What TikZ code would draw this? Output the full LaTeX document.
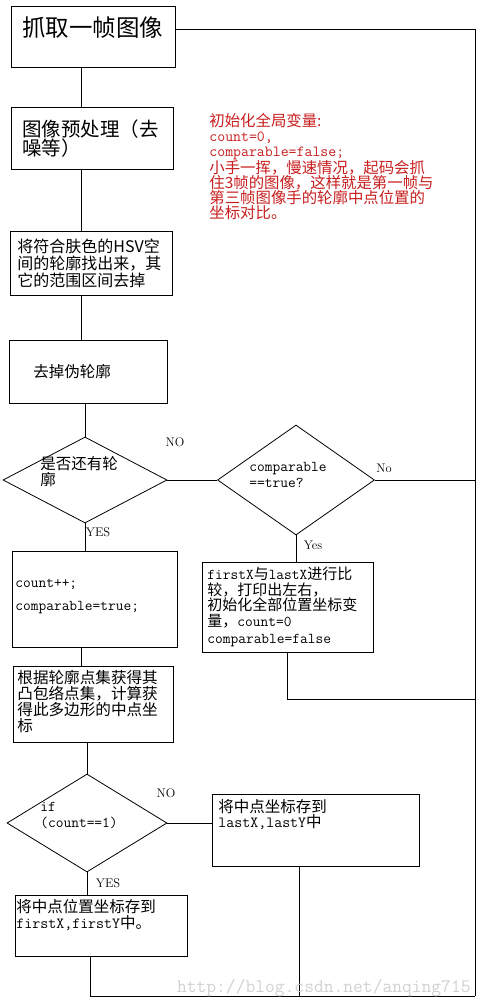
\documentclass[tikz,border=0pt]{standalone}
\usepackage{fontspec}
\newfontfamily\cjk{Noto Sans CJK SC}
\usetikzlibrary{shapes.geometric}
\definecolor{notered}{RGB}{200,30,30}
\newcommand{\mono}[1]{{\ttfamily #1}}

\begin{document}
\begin{tikzpicture}[x=1pt, y=-1pt, line width=0.8pt,
    box/.style={draw, rectangle, inner sep=0pt},
    decision/.style={draw, diamond, inner sep=0pt},
    zh/.style={font=\fontsize{15.5}{16}\cjk, align=left, inner sep=0pt, anchor=west},
    code/.style={font=\fontsize{15}{16}\ttfamily, align=left, inner sep=0pt, anchor=west},
    yn/.style={font=\fontsize{12.5}{13}\selectfont, inner sep=0pt}]
  \fill[white] (0,0) rectangle (481,1008);
  \useasboundingbox (0,0) rectangle (481,1008);

  % boxes and decisions
  \node[box, minimum width=163.5, minimum height=61] (grab) at (93.25,36.5) {};
  \node[box, minimum width=161.5, minimum height=62] (prep) at (92.25,138) {};
  \node[box, minimum width=162, minimum height=64] (hsv) at (91,263) {};
  \node[box, minimum width=158, minimum height=63] (fake) at (88,371.5) {};
  \node[decision, minimum width=164, minimum height=86] (d1) at (85,480) {};
  \node[decision, minimum width=157, minimum height=110] (d2) at (296,480) {};
  \node[box, minimum width=165, minimum height=96] (cnt) at (94.5,599) {};
  \node[box, minimum width=171, minimum height=90] (cmp) at (287.5,607) {};
  \node[box, minimum width=160, minimum height=76] (hull) at (93,704) {};
  \node[decision, minimum width=160, minimum height=98] (d3) at (87,823) {};
  \node[box, minimum width=207, minimum height=72] (last) at (315.5,830) {};
  \node[box, minimum width=172, minimum height=61] (first) at (101,925.5) {};

  % texts
  \node[zh, font=\fontsize{23.5}{26}\cjk] (grabtxt) at (22,28) {抓取一帧图像};
  \node[zh, font=\fontsize{19.5}{19}\cjk] (preptxt) at (22,139) {图像预处理（去\\噪等）};
  \node[zh, font=\fontsize{16}{17}\cjk] (hsvtxt) at (17,263) {将符合肤色的HSV空\\间的轮廓找出来，其\\它的范围区间去掉};
  \node[zh] (faketxt) at (33,372) {去掉伪轮廓};
  \node[zh] (d1txt) at (40,472) {是否还有轮\\廓};
  \node[code] (d2txt) at (249,475) {comparable\\==true?};
  \node[code, font=\fontsize{15}{23}\ttfamily] (cnttxt) at (15,596.5) {count++;\\comparable=true;};
  \node[zh, font=\fontsize{15}{15.5}\cjk] (cmptxt) at (207,607) {\mono{firstX}与\mono{lastX}进行比\\较，打印出左右，\\初始化全部位置坐标变\\量，\mono{count=0}\\[2pt]\mono{comparable=false}};
  \node[zh, font=\fontsize{15.6}{16.3}\cjk] (hulltxt) at (17,701.5) {根据轮廓点集获得其\\凸包络点集，计算获\\得此多边形的中点坐\\标};
  \node[code, font=\fontsize{15}{15.5}\ttfamily] (d3txt) at (40,815.5) {if\\(count==1)};
  \node[zh, font=\fontsize{15.5}{15.5}\cjk] (lasttxt) at (218,814.5) {将中点坐标存到\\\mono{lastX,lastY}中};
  \node[zh] (firsttxt) at (16,915) {将中点位置坐标存到\\\mono{firstX,firstY}中。};
  \node[zh, anchor=north west, text=notered, font=\fontsize{15.4}{15}\cjk] (note) at (209,113)
    {初始化全局变量:\\\mono{count=0,}\\\mono{comparable=false;}\\小手一挥，慢速情况，起码会抓\\住3帧的图像，这样就是第一帧与\\第三帧图像手的轮廓中点位置的\\坐标对比。};

  % branch labels
  \node[yn] (no1) at (175,442) {NO};
  \node[yn] (no2) at (384,468) {No};
  \node[yn] (yes1) at (98,532) {YES};
  \node[yn] (yes2) at (313,545) {Yes};
  \node[yn] (no3) at (166,793) {NO};
  \node[yn] (yes3) at (108,883) {YES};

  % connectors
  \coordinate (spine) at (81,0);
  \coordinate (rtop) at (475,29);
  \coordinate (rmid) at (475,699);
  \coordinate (rbot) at (475,996);
  \draw (grab.south -| spine) -- (prep.north -| spine);
  \draw (prep.south -| spine) -- (hsv.north -| spine);
  \draw (hsv.south -| spine) -- (fake.north -| spine);
  \draw (fake.south -| d1.north) -- (d1.north);
  \draw (d1.south) -- (d1.south |- cnt.north);
  \draw (d1.east) -- (d2.west);
  \draw (d2.south) -- (d2.south |- cmp.north);
  \draw (cnt.south -| spine) -- (hull.north -| spine);
  \draw (hull.south -| d3.north) -- (d3.north);
  \draw (d3.south) -- (d3.south |- first.north);
  \draw (d3.east) -- (d3.east -| last.west);
  % loop back to the top
  \draw (grab.east |- rtop) -- (rtop) -- (rbot);
  \draw (d2.east) -- (d2.east -| rtop);
  \draw (cmp.south) |- (rmid);
  \draw ([xshift=-11pt]first.south) |- (rbot);
  \draw ([xshift=-16pt]last.south) -- ([xshift=-16pt]last.south |- rbot);

  \node[font=\fontsize{19}{20}\ttfamily, text=black!18, anchor=east, inner sep=0pt] (mark) at (471,988) {http://blog.csdn.net/anqing715};
\end{tikzpicture}
\end{document}
